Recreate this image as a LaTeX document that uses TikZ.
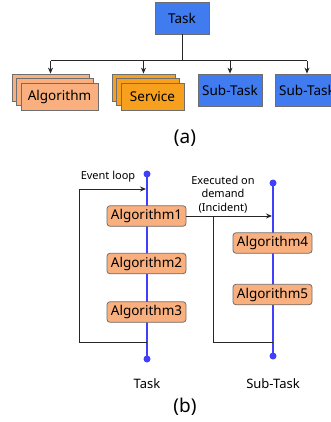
\documentclass[tikz,border=0pt]{standalone}
\usepackage{fontspec}
\setmainfont{Noto Sans}
\usetikzlibrary{arrows.meta}
\definecolor{taskblue}{RGB}{64,124,240}
\definecolor{peach}{RGB}{250,176,126}
\definecolor{servor}{RGB}{247,160,30}
\definecolor{lineblue}{RGB}{64,64,250}
\definecolor{bordergray}{RGB}{110,110,110}
\tikzset{
  bluebox/.style={draw=bordergray, fill=taskblue, line width=0.8pt, inner sep=0pt, minimum height=32pt, font=\fontsize{13.5}{15}\selectfont},
  stackbox/.style={draw=bordergray, line width=0.8pt, inner sep=0pt, minimum width=77pt, minimum height=27pt, font=\fontsize{13.5}{15}\selectfont},
  algbox/.style={draw=bordergray, fill=peach, rounded corners=3pt, line width=0.8pt, inner sep=0pt, minimum width=79pt, minimum height=20.5pt, font=\fontsize{13.5}{15}\selectfont},
  conn/.style={draw=black!85, line width=1pt},
  arr/.style={conn, -{Stealth[length=6pt,width=5pt]}},
  timeline/.style={draw=lineblue, line width=1.6pt},
  dotstyle/.style={circle, fill=lineblue, inner sep=0pt, minimum size=7pt},
  smalllabel/.style={font=\fontsize{11}{13.5}\selectfont, align=center, inner sep=0pt},
  biglabel/.style={font=\fontsize{13}{15}\selectfont, inner sep=0pt},
  caption/.style={font=\fontsize{19}{21}\selectfont, inner sep=0pt}
}
\begin{document}
\begin{tikzpicture}[x=1pt, y=-1pt]
\useasboundingbox (0,0) rectangle (331,422);
\clip (0,0) rectangle (331,422);
\fill[white] (0,0) rectangle (331,422);
% ---------- (a) ----------
\node[bluebox, minimum width=54pt] (task) at (182,18) {Task};
% algorithm stack
\node[stackbox, fill=peach] (alg3) at (50.5,87.5) {};
\node[stackbox, fill=peach] (alg2) at (55,92) {};
\node[stackbox, fill=peach] (alg1) at (59.5,96.5) {Algorithm};
% service stack
\node[stackbox, fill=servor, minimum width=63pt] (srv3) at (143.5,87.5) {};
\node[stackbox, fill=servor, minimum width=63pt] (srv2) at (148,92) {};
\node[stackbox, fill=servor, minimum width=63pt] (srv1) at (152.5,96.5) {Service};
\node[bluebox, minimum width=64pt] (sub1) at (230,90) {Sub-Task};
\node[bluebox, minimum width=64pt] (sub2) at (307,90) {Sub-Task};
\coordinate (bar) at (182,61);
\draw[conn] (task.south) -- (bar);
\draw[conn] (alg3.north |- bar) -- (sub2.north |- bar);
\draw[arr] (alg3.north |- bar) -- (alg3.north);
\draw[arr] (srv3.north |- bar) -- (srv3.north);
\draw[arr] (sub1.north |- bar) -- (sub1.north);
\draw[arr] (sub2.north |- bar) -- (sub2.north);
\node[caption] (capa) at (185,138) {(a)};
% ---------- (b) ----------
\node[dotstyle] (ttop) at (147,174) {};
\node[dotstyle] (tbot) at (147,359) {};
\node[dotstyle] (stop) at (273,183) {};
\node[dotstyle] (sbot) at (273,356) {};
\draw[timeline] (ttop.center) -- (tbot.center);
\draw[timeline] (stop.center) -- (sbot.center);
\node[algbox] (a1) at (146.5,216) {Algorithm1};
\node[algbox] (a2) at (146.5,263.5) {Algorithm2};
\node[algbox] (a3) at (146.5,312) {Algorithm3};
\node[algbox] (a4) at (272.5,243) {Algorithm4};
\node[algbox] (a5) at (272.5,294.5) {Algorithm5};
% event loop
\coordinate (loopend) at (147,342);
\coordinate (loopleft) at (79,189);
\coordinate (looptop) at (146,189);
\draw[arr] (loopend) -| (loopleft) -- (looptop);
\node[smalllabel] (evl) at (108,177) {Event loop};
% executed on demand
\coordinate (exend) at (272,216);
\coordinate (branch) at (213,216);
\coordinate (subret) at (273,342);
\draw[arr] (a1.east) -- (exend);
\draw[conn] (branch) |- (subret);
\node[smalllabel] (exl) at (223,194.5) {Executed on\\demand\\(Incident)};
\node[biglabel] (tl) at (147,384) {Task};
\node[biglabel] (sl) at (273,384) {Sub-Task};
\node[caption] (capb) at (185,407) {(b)};
\end{tikzpicture}
\end{document}
